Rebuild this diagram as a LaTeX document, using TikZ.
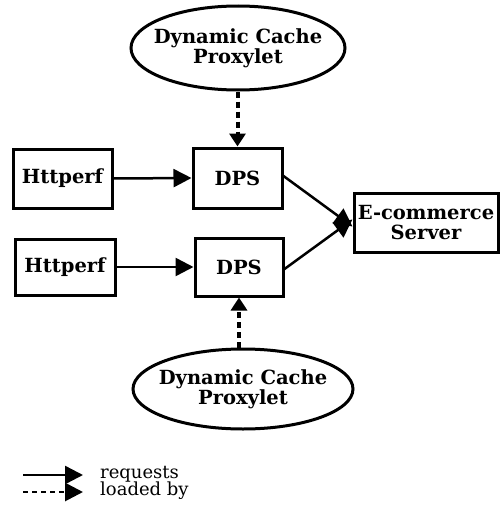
\documentclass[tikz,border=0pt]{standalone}
\usepackage{fontspec}
\setmainfont{DejaVu Serif}
\usetikzlibrary{arrows.meta,shapes.geometric}
\begin{document}
\begin{tikzpicture}[x=1pt,y=-1pt,
  lbl/.style={font=\fontsize{19.5}{20}\selectfont\bfseries, align=center},
  boxnode/.style={lbl, draw, line width=3pt, inner sep=0pt},
  ellnode/.style={lbl, draw, ellipse, line width=3pt, inner xsep=-9pt, inner ysep=0pt},
  req/.style={line width=2.5pt, -{Triangle[length=18pt,width=18pt]}},
  load/.style={line width=4pt, dash pattern=on 6pt off 4pt, -{Triangle[length=13pt,width=16pt]}},
  legtext/.style={font=\fontsize{18}{18}\selectfont, anchor=west, inner sep=0pt}
]
\useasboundingbox (0,0) rectangle (501,514);
\node[ellnode, minimum width=214pt, minimum height=84pt] (ell1) at (238,48) {Dynamic Cache\\Proxylet};
\node[boxnode, minimum width=99pt, minimum height=59pt] (ht1) at (62.5,178.5) {Httperf};
\node[boxnode, minimum width=89pt, minimum height=60pt] (dps1) at (237.5,178) {DPS};
\node[boxnode, minimum width=100pt, minimum height=56pt] (ht2) at (65,267) {Httperf};
\node[boxnode, minimum width=88pt, minimum height=58pt] (dps2) at (239,267) {DPS};
\node[boxnode, minimum width=144pt, minimum height=59pt] (srv) at (426,222.5) {E-commerce\\Server};
\node[ellnode, minimum width=220pt, minimum height=80pt] (ell2) at (243,389) {Dynamic Cache\\Proxylet};

\draw[load] (ell1.south -| dps1.north) -- (dps1.north);
\draw[load] (ell2.north -| dps2.south) -- (dps2.south);
\draw[req] (ht1.east) -- (dps1.west);
\draw[req] (ht2.east) -- (dps2.west);
\coordinate (s1) at ([yshift=-4pt]srv.west);
\coordinate (s2) at ([yshift=3pt]srv.west);
\coordinate (d1) at ([yshift=2pt]dps1.east);
\coordinate (d2) at ([yshift=-2pt]dps2.east);
\draw[req] (d1) -- (s1);
\draw[req] (d2) -- (s2);

\coordinate (la1) at (23,475);
\coordinate (lb1) at (83,475);
\coordinate (la2) at (23,492);
\coordinate (lb2) at (83,492);
\draw[req] (la1) -- (lb1);
\draw[line width=2.8pt, dash pattern=on 5pt off 4pt, -{Triangle[length=18pt,width=18pt]}] (la2) -- (lb2);
\node[legtext] (t1) at (100,474) {requests};
\node[legtext] (t2) at (100,491) {loaded by};
\end{tikzpicture}
\end{document}
